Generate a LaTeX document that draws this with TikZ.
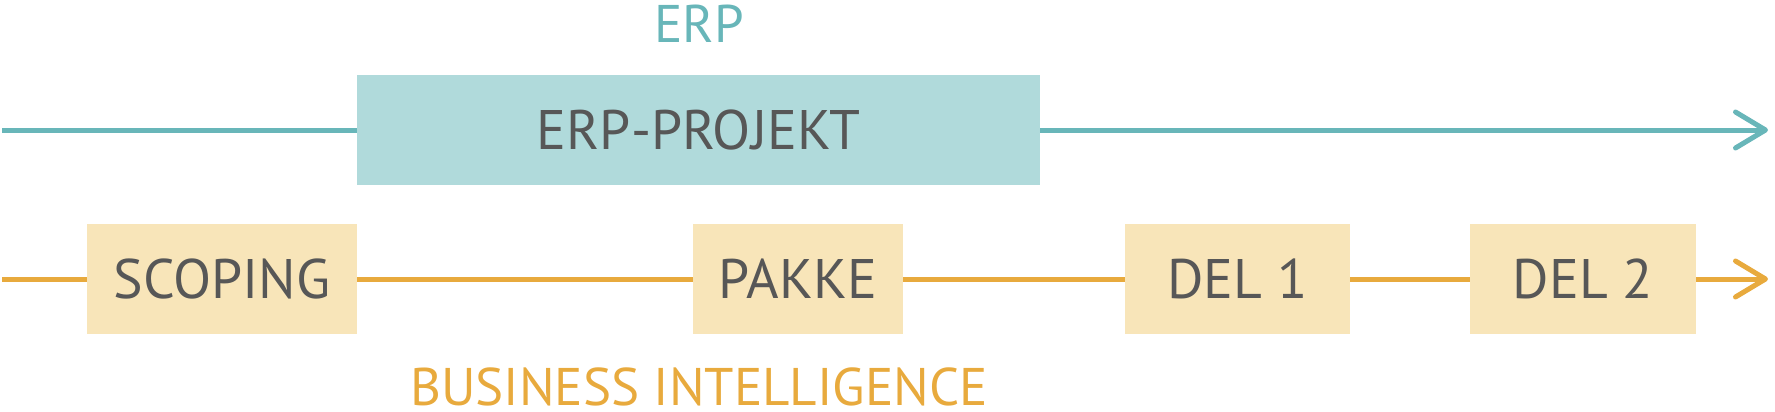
\documentclass[tikz,border=0pt]{standalone}
\usepackage{fontspec}
\setmainfont{PT Sans}
\usetikzlibrary{arrows.meta}
\definecolor{erpline}{HTML}{68B6B9}
\definecolor{erpfill}{HTML}{B0DADB}
\definecolor{biline}{HTML}{E8AA3D}
\definecolor{bifill}{HTML}{F8E5B9}
\definecolor{txtgray}{HTML}{575757}
\tikzset{
  x=1pt, y=-1pt,
  erpbox/.style={fill=erpfill, inner sep=0pt, minimum width=683pt, minimum height=110pt,
     text=txtgray, font=\fontsize{55.7}{60}\selectfont, text height=39pt, text depth=0pt},
  bibox/.style={fill=bifill, inner sep=0pt, minimum height=110pt,
     text=txtgray, font=\fontsize{55.7}{60}\selectfont, text height=39pt, text depth=0pt},
  erpstroke/.style={draw=erpline, line width=5pt},
  bistroke/.style={draw=biline, line width=5pt},
  tip/.style={-{Straight Barb[length=30pt, width=36pt, line cap=round, line join=round]}},
  titlelabel/.style={anchor=base, inner sep=0pt, text height=37pt, text depth=0pt,
     font=\fontsize{53}{58}\selectfont}
}
\begin{document}
\begin{tikzpicture}
\useasboundingbox (0,0) rectangle (1775,412);
% nodes
\node[erpbox] (erp) at (698.5,130) {ERP-PROJEKT};
\node[bibox, minimum width=270pt] (scoping) at (222,279) {SCOPING};
\node[bibox, minimum width=210pt] (pakke) at (798,279) {PAKKE};
\node[bibox, minimum width=225pt] (del1) at (1237.5,279) {DEL 1};
\node[bibox, minimum width=226pt] (del2) at (1583,279) {DEL 2};
\coordinate (es) at (2,130);
\coordinate (ee) at (1768,130);
\coordinate (bs) at (2,279);
\coordinate (be) at (1768,279);
% connectors
\draw[erpstroke] (es) -- (erp.west);
\draw[erpstroke, tip] (erp.east) -- (ee);
\draw[bistroke] (bs) -- (scoping.west);
\draw[bistroke] (scoping.east) -- (pakke.west);
\draw[bistroke] (pakke.east) -- (del1.west);
\draw[bistroke] (del1.east) -- (del2.west);
\draw[bistroke, tip] (del2.east) -- (be);
% labels
\node[titlelabel, text=erpline] (erplabel) at (699,43) {ERP};
\node[titlelabel, text=biline] (bilabel) at (699,405) {BUSINESS INTELLIGENCE};
\end{tikzpicture}
\end{document}
